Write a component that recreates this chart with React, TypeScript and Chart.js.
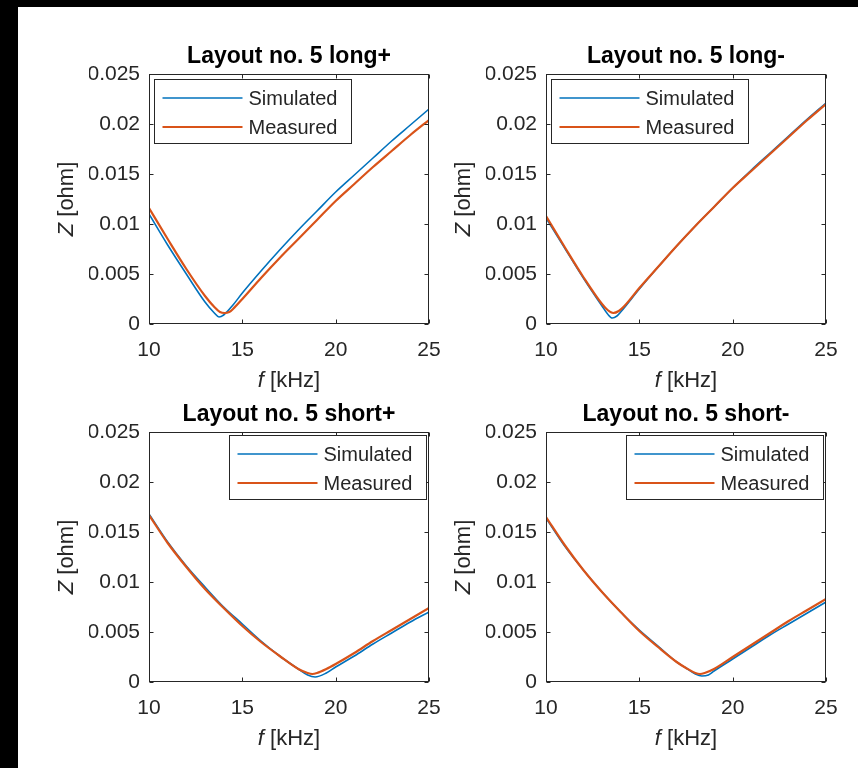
import React, { useEffect, useRef } from 'react';
import { Chart, registerables } from 'chart.js';

Chart.register(...registerables);

// ---------- data ----------
const xTickValues = [10, 15, 20, 25];
const yTickValues = [0, 0.005, 0.01, 0.015, 0.02, 0.025];
const seriesNames = ['Simulated', 'Measured'];
const panelTitles = ['Layout no. 5 long+', 'Layout no. 5 long-', 'Layout no. 5 short+', 'Layout no. 5 short-'];
const xAxisLabel = ['f', ' [kHz]'];
const yAxisLabel = ['Z', ' [ohm]'];

// Layout no. 5 long+
const fLongPlusSim = [10, 11, 12, 13, 13.5, 13.75, 14, 14.5, 15, 16, 17, 18, 19, 20, 21, 22, 23, 24, 25];
const zLongPlusSim = [0.0110, 0.0079, 0.0050, 0.0022, 0.0011, 0.0007, 0.0009, 0.0019, 0.0031, 0.0053, 0.0074, 0.0094, 0.0113, 0.0132, 0.0149, 0.0166, 0.0183, 0.0199, 0.0215];
const fLongPlusMeas = [10, 11, 12, 13, 13.5, 13.8, 14.05, 14.3, 14.5, 15, 16, 17, 18, 19, 20, 21, 22, 23, 24, 25];
const zLongPlusMeas = [0.0116, 0.0085, 0.0055, 0.0028, 0.0017, 0.0012, 0.0011, 0.0012, 0.0015, 0.0025, 0.0046, 0.0066, 0.0085, 0.0104, 0.0123, 0.0140, 0.0157, 0.0173, 0.0189, 0.0204];

// Layout no. 5 long-
const fLongMinusSim = [10, 11, 12, 13, 13.3, 13.55, 13.8, 14, 15, 16, 17, 18, 19, 20, 21, 22, 23, 24, 25];
const zLongMinusSim = [0.0106, 0.0076, 0.0046, 0.0018, 0.0010, 0.0006, 0.0008, 0.0012, 0.0035, 0.0057, 0.0078, 0.0098, 0.0117, 0.0136, 0.0154, 0.0171, 0.0188, 0.0205, 0.0221];
const fLongMinusMeas = [10, 11, 12, 13, 13.3, 13.6, 13.9, 14.2, 15, 16, 17, 18, 19, 20, 21, 22, 23, 24, 25];
const zLongMinusMeas = [0.0108, 0.0077, 0.0047, 0.0020, 0.0014, 0.0011, 0.0013, 0.0018, 0.0036, 0.0057, 0.0078, 0.0098, 0.0117, 0.0136, 0.0153, 0.0170, 0.0187, 0.0204, 0.0220];

// Layout no. 5 short+
const fShortPlusSim = [10, 11, 12, 13, 14, 15, 16, 17, 18, 18.5, 18.9, 19.5, 20, 21, 22, 23, 24, 25];
const zShortPlusSim = [0.0168, 0.0140, 0.0116, 0.0095, 0.0075, 0.0058, 0.0041, 0.0026, 0.0013, 0.0007, 0.0005, 0.0009, 0.0015, 0.0026, 0.0038, 0.0049, 0.0060, 0.0070];
const fShortPlusMeas = [10, 11, 12, 13, 14, 15, 16, 17, 18, 18.5, 18.75, 19, 19.5, 20, 21, 22, 23, 24, 25];
const zShortPlusMeas = [0.0167, 0.0139, 0.0115, 0.0093, 0.0074, 0.0056, 0.0040, 0.0026, 0.0013, 0.0009, 0.0008, 0.0009, 0.0013, 0.0018, 0.0029, 0.0041, 0.0052, 0.0063, 0.0074];

// Layout no. 5 short-
const fShortMinusSim = [10, 11, 12, 13, 14, 15, 16, 17, 17.5, 18, 18.35, 18.7, 19, 20, 21, 22, 23, 24, 25];
const zShortMinusSim = [0.0164, 0.0136, 0.0112, 0.0090, 0.0070, 0.0052, 0.0036, 0.0020, 0.0014, 0.0008, 0.0006, 0.0007, 0.0011, 0.0023, 0.0035, 0.0047, 0.0058, 0.0069, 0.0080];
const fShortMinusMeas = [10, 11, 12, 13, 14, 15, 16, 17, 17.5, 18, 18.25, 18.5, 19, 20, 21, 22, 23, 24, 25];
const zShortMinusMeas = [0.0165, 0.0137, 0.0112, 0.0090, 0.0070, 0.0051, 0.0035, 0.0020, 0.0014, 0.0009, 0.0008, 0.0009, 0.0013, 0.0025, 0.0037, 0.0049, 0.0061, 0.0072, 0.0083];

// ---------- styles / layout ----------
const FONT = '"Liberation Sans", Arial, Helvetica, sans-serif';
const AXIS_COLOR = '#262626';
const BLUE = '#0072BD';
const ORANGE = '#D95319';
const TICK_LEN = 4;
const Y_AXIS_W = 60;
const X_AXIS_H = 45;

type PanelSpec = {
  title: string;
  cx: number; cy: number; cw: number; ch: number;
  L: number; T: number; R: number; B: number;
  legend: 'nw' | 'ne';
  sim: [number[], number[]];
  meas: [number[], number[]];
};

const panels: PanelSpec[] = [
  { title: panelTitles[0], cx: 18, cy: 7, cw: 442, ch: 388, L: 149, T: 74, R: 429, B: 324, legend: 'nw', sim: [fLongPlusSim, zLongPlusSim], meas: [fLongPlusMeas, zLongPlusMeas] },
  { title: panelTitles[1], cx: 440, cy: 7, cw: 418, ch: 388, L: 546, T: 74, R: 826, B: 324, legend: 'nw', sim: [fLongMinusSim, zLongMinusSim], meas: [fLongMinusMeas, zLongMinusMeas] },
  { title: panelTitles[2], cx: 18, cy: 395, cw: 442, ch: 373, L: 149, T: 432, R: 429, B: 682, legend: 'ne', sim: [fShortPlusSim, zShortPlusSim], meas: [fShortPlusMeas, zShortPlusMeas] },
  { title: panelTitles[3], cx: 440, cy: 395, cw: 418, ch: 373, L: 546, T: 432, R: 826, B: 682, legend: 'ne', sim: [fShortMinusSim, zShortMinusSim], meas: [fShortMinusMeas, zShortMinusMeas] },
];

function toPoints(xs: number[], ys: number[]) {
  return xs.map((x, i) => ({ x, y: ys[i] }));
}

function drawMixed(ctx: CanvasRenderingContext2D, parts: string[], size: number, cx: number, cy: number, rotate: boolean) {
  ctx.save();
  ctx.translate(cx, cy);
  if (rotate) ctx.rotate(-Math.PI / 2);
  ctx.fillStyle = AXIS_COLOR;
  ctx.textBaseline = 'middle';
  ctx.textAlign = 'left';
  ctx.font = `italic ${size}px ${FONT}`;
  const w1 = ctx.measureText(parts[0]).width;
  ctx.font = `${size}px ${FONT}`;
  const w2 = ctx.measureText(parts[1]).width;
  const start = -(w1 + w2) / 2;
  ctx.font = `italic ${size}px ${FONT}`;
  ctx.fillText(parts[0], start, 0);
  ctx.font = `${size}px ${FONT}`;
  ctx.fillText(parts[1], start + w1, 0);
  ctx.restore();
}

const decorPlugin = {
  id: 'panelDecor',
  afterDraw(chart: any, _args: any, opts: any) {
    const ctx: CanvasRenderingContext2D = chart.ctx;
    const a = chart.chartArea;
    const xs = chart.scales.x;
    const ys = chart.scales.y;
    const left = Math.round(a.left) + 0.5;
    const right = Math.round(a.right) - 0.5;
    const top = Math.round(a.top) + 0.5;
    const bottom = Math.round(a.bottom) - 0.5;
    ctx.save();

    // inward ticks on all four sides
    ctx.strokeStyle = AXIS_COLOR;
    ctx.lineWidth = 1;
    ctx.beginPath();
    xs.ticks.forEach((t: any) => {
      const px = Math.round(xs.getPixelForValue(t.value)) + 0.5;
      ctx.moveTo(px, bottom); ctx.lineTo(px, bottom - TICK_LEN);
      ctx.moveTo(px, top); ctx.lineTo(px, top + TICK_LEN);
    });
    ys.ticks.forEach((t: any) => {
      const py = Math.round(ys.getPixelForValue(t.value)) + 0.5;
      ctx.moveTo(left, py); ctx.lineTo(left + TICK_LEN, py);
      ctx.moveTo(right, py); ctx.lineTo(right - TICK_LEN, py);
    });
    ctx.stroke();

    // axes box
    ctx.strokeRect(left, top, right - left, bottom - top);

    // legend box
    const bw = 197, bh = 64;
    const bx = opts.legend === 'nw' ? Math.round(a.left) + 5.5 : Math.round(a.right) - 199.5;
    const by = opts.legend === 'nw' ? Math.round(a.top) + 5.5 : Math.round(a.top) + 3.5;
    ctx.fillStyle = '#ffffff';
    ctx.fillRect(bx, by, bw, bh);
    ctx.strokeStyle = AXIS_COLOR;
    ctx.lineWidth = 1;
    ctx.strokeRect(bx, by, bw, bh);
    const colors = [BLUE, ORANGE];
    const widths = [1.5, 2];
    seriesNames.forEach((name, i) => {
      const ly = by + 18.5 + i * 29;
      ctx.strokeStyle = colors[i];
      ctx.lineWidth = widths[i];
      ctx.beginPath();
      ctx.moveTo(bx + 8, ly);
      ctx.lineTo(bx + 88, ly);
      ctx.stroke();
      ctx.fillStyle = AXIS_COLOR;
      ctx.font = `20px ${FONT}`;
      ctx.textAlign = 'left';
      ctx.textBaseline = 'middle';
      ctx.fillText(name, bx + 94, ly + 1);
    });

    // title
    ctx.fillStyle = '#000000';
    ctx.font = `bold 23px ${FONT}`;
    ctx.textAlign = 'center';
    ctx.textBaseline = 'alphabetic';
    ctx.fillText(opts.title, (a.left + a.right) / 2, a.top - 11);

    // axis labels
    drawMixed(ctx, xAxisLabel, 22, (a.left + a.right) / 2, a.bottom + 57, false);
    drawMixed(ctx, yAxisLabel, 22, a.left - 82, (a.top + a.bottom) / 2, true);

    ctx.restore();
  },
};

function Panel({ spec }: { spec: PanelSpec }) {
  const ref = useRef<HTMLCanvasElement>(null);
  useEffect(() => {
    if (!ref.current) return;
    const pad = {
      left: spec.L - spec.cx - Y_AXIS_W,
      top: spec.T - spec.cy,
      right: spec.cx + spec.cw - spec.R,
      bottom: spec.cy + spec.ch - spec.B - X_AXIS_H,
    };
    const chart = new Chart(ref.current, {
      type: 'scatter',
      data: {
        datasets: [
          {
            label: seriesNames[0],
            data: toPoints(spec.sim[0], spec.sim[1]),
            showLine: true,
            borderColor: BLUE,
            backgroundColor: BLUE,
            borderWidth: 1.6,
            pointRadius: 0,
            cubicInterpolationMode: 'monotone',
            order: 2,
          },
          {
            label: seriesNames[1],
            data: toPoints(spec.meas[0], spec.meas[1]),
            showLine: true,
            borderColor: ORANGE,
            backgroundColor: ORANGE,
            borderWidth: 2.2,
            pointRadius: 0,
            cubicInterpolationMode: 'monotone',
            order: 1,
          },
        ],
      },
      options: {
        responsive: false,
        animation: false,
        devicePixelRatio: 1,
        layout: { padding: pad },
        plugins: {
          legend: { display: false },
          title: { display: false },
          tooltip: { enabled: false },
          panelDecor: { title: spec.title, legend: spec.legend },
        } as any,
        scales: {
          x: {
            type: 'linear',
            min: 10,
            max: 25,
            grid: { display: false, drawTicks: false },
            border: { display: false },
            afterBuildTicks: (s: any) => { s.ticks = xTickValues.map((v) => ({ value: v })); },
            afterFit: (s: any) => { s.height = X_AXIS_H; },
            ticks: {
              padding: 14,
              color: AXIS_COLOR,
              font: { family: FONT, size: 21 },
              maxRotation: 0,
              callback: (v: any) => String(v),
            },
          },
          y: {
            type: 'linear',
            min: 0,
            max: 0.025,
            grid: { display: false, drawTicks: false },
            border: { display: false },
            afterBuildTicks: (s: any) => { s.ticks = yTickValues.map((v) => ({ value: v })); },
            afterFit: (s: any) => { s.width = Y_AXIS_W; },
            ticks: {
              padding: 9,
              color: AXIS_COLOR,
              font: { family: FONT, size: 21 },
              callback: (v: any) => String(Number(Number(v).toFixed(3))),
            },
          },
        },
      },
      plugins: [decorPlugin],
    } as any);
    return () => chart.destroy();
  }, [spec]);
  return (
    <div style={{ position: 'absolute', left: spec.cx, top: spec.cy, width: spec.cw, height: spec.ch }}>
      <canvas ref={ref} width={spec.cw} height={spec.ch} style={{ display: 'block', width: spec.cw, height: spec.ch }} />
    </div>
  );
}

export default function App() {
  return (
    <div style={{ position: 'absolute', left: 0, top: 0, width: 858, height: 768, background: '#ffffff', overflow: 'hidden' }}>
      <div style={{ position: 'absolute', left: 0, top: 0, width: 858, height: 7, background: '#000000' }} />
      <div style={{ position: 'absolute', left: 0, top: 0, width: 18, height: 768, background: '#000000' }} />
      {panels.map((p, i) => (
        <Panel key={i} spec={p} />
      ))}
    </div>
  );
}
